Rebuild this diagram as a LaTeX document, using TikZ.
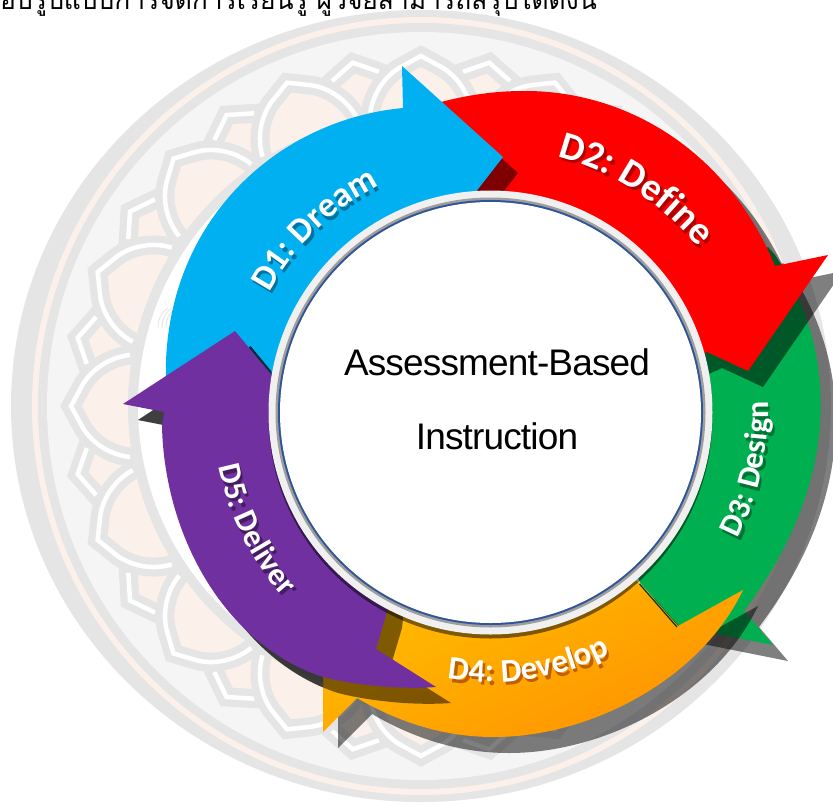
\documentclass[tikz,border=0pt]{standalone}
\usepackage{fontspec}
\setmainfont{Liberation Sans}
\newfontfamily\titlefam[LetterSpace=-2.3]{Liberation Sans}
\newfontfamily\thaifont[Script=Thai]{Loma}
\newfontfamily\lblfam{Carlito}
\usetikzlibrary{decorations.text}
\definecolor{wgrey}{HTML}{E5E5E5}
\definecolor{wband}{HTML}{F5F5F5}
\definecolor{wpeach}{HTML}{FCF0EA}
\definecolor{cblue}{HTML}{00B0F0}
\definecolor{cred}{HTML}{FF0000}
\definecolor{cgreen}{HTML}{00B050}
\definecolor{cpurple}{HTML}{7030A0}
\definecolor{ringblue}{HTML}{2F5597}
\definecolor{ortop}{HTML}{FFC800}
\definecolor{orbot}{HTML}{FF9400}
\tikzset{
  castshadow/.style={fill=black,fill opacity=.5,shift={(15,16)}},
  maintext/.style={font=\titlefam\fontsize{37}{37}\selectfont,text=black,inner sep=0pt},
}
% arrow outlines, in reference pixels
\def\pathGreen{(768,247) -- (775,255) .. controls (832,340) and (850,470) .. (744,611) -- (773,645) -- (678,626) -- (640,583) -- (600,450) -- (700,300) -- cycle}
\def\pathOrange{(743,590) .. controls (700,680) and (590,737) .. (494,737) .. controls (440,737) and (395,720) .. (357,698) -- (323,732) -- (323,650) -- (380,590) -- (491,500) -- (640,583) -- (678,626) -- cycle}
\def\pathRed{(441,102) .. controls (468,95) and (495,91) .. (523,91) .. controls (620,90) and (725,145) .. (775,266) -- (828,255) -- (748,371) -- (707,352) -- (600,400) -- (491,250) -- (475,193) -- cycle}
\def\pathBlue{(166,385) .. controls (160,225) and (275,120) .. (403,108) -- (402,66) -- (503,157) -- (475,193) -- (491,300) -- (300,400) -- cycle}
\def\pathPurple{(436,687) .. controls (395,690) and (350,684) .. (323,677) .. controls (225,645) and (165,537) .. (162,427) -- (164,412) -- (123,404) -- (235,331) -- (270,373) -- (400,500) -- (387,612) -- (376,649) -- cycle}
% curved white label: start angle, end angle, baseline radius, text, halo colour, font commands
\newcommand{\ringlabel}[6]{%
  \pgfmathsetmacro{\lk}{4/3*tan((#2-(#1))/4)*#3}%
  \pgfmathsetmacro{\lax}{491+#3*cos(#1)}\pgfmathsetmacro{\lay}{412-#3*sin(#1)}%
  \pgfmathsetmacro{\lbx}{491+#3*cos(#2)}\pgfmathsetmacro{\lby}{412-#3*sin(#2)}%
  \pgfmathsetmacro{\lcx}{\lax-\lk*sin(#1)}\pgfmathsetmacro{\lcy}{\lay-\lk*cos(#1)}%
  \pgfmathsetmacro{\ldx}{\lbx+\lk*sin(#2)}\pgfmathsetmacro{\ldy}{\lby+\lk*cos(#2)}%
  \path[shift={(2.5,3.5)},decorate,decoration={text along path,text align=center,
      text={|\lblfam#6\color{#5}|#4}}]
      (\lax,\lay) .. controls (\lcx,\lcy) and (\ldx,\ldy) .. (\lbx,\lby);
  \path[decorate,decoration={text along path,text align=center,
      text={|\lblfam#6\color{white}|#4}}]
      (\lax,\lay) .. controls (\lcx,\lcy) and (\ldx,\ldy) .. (\lbx,\lby);
}
\begin{document}
\begin{tikzpicture}[x=1pt,y=-1pt]
\clip (0,0) rectangle (833,804);
\fill[white] (0,0) rectangle (833,804);
% ---- watermark emblem
\fill[wgrey] (421,406) ellipse[x radius=410,y radius=396];
\fill[wpeach] (421,406) circle[radius=389];
\fill[wgrey] (421,406) circle[radius=383];
\fill[wband] (421,406) circle[radius=374];
\foreach \i in {0,...,15}{
  \begin{scope}[shift={(421,406)},rotate={\i*22.5+11.25}]
    \fill[wpeach] (350,0) -- (336,24) -- (285,24) -- (285,-24) -- (336,-24) -- cycle;
    \draw[wgrey,line width=19pt,line join=miter,miter limit=5] (330,34) -- (350,0) -- (330,-34);
    \draw[white,line width=4.5pt,line join=miter,miter limit=5] (336,24) -- (350,0) -- (336,-24);
  \end{scope}
}
\foreach \i in {0,...,15}{
  \begin{scope}[shift={(421,406)},rotate={\i*22.5}]
    \fill[wpeach] (350,0) -- (338,22) .. controls (328,38) and (310,49) .. (291,51) -- (285,51) -- (285,-51) -- (291,-51) .. controls (310,-49) and (328,-38) .. (338,-22) -- cycle;
    \draw[wgrey,line width=19pt,line join=miter,miter limit=5] (280,52) -- (291,51) .. controls (310,49) and (328,38) .. (338,22) -- (350,0) -- (338,-22) .. controls (328,-38) and (310,-49) .. (291,-51) -- (280,-52);
    \draw[white,line width=4.5pt,line join=miter,miter limit=5] (291,51) .. controls (310,49) and (328,38) .. (338,22) -- (350,0) -- (338,-22) .. controls (328,-38) and (310,-49) .. (291,-51);
  \end{scope}
}
\fill[wgrey] (421,406) circle[radius=293];
\fill[white] (421,406) circle[radius=283];
\foreach \d in {0,4,8}{
  \draw[wgrey,line width=.8pt] ({158+\d},328) .. controls ({158+\d},318) and ({162+\d},312) .. ({168+\d},308);
}
% ---- cycle arrows (back to front)
\fill[castshadow] \pathGreen;
\fill[cgreen] \pathGreen;
\fill[castshadow] \pathOrange;
\shade[top color=ortop,bottom color=orbot,shading angle=25] \pathOrange;
\draw[black!70!cgreen,line width=1.2pt] (639.5,584) -- (677,627);
\fill[castshadow] \pathRed;
\fill[cred] \pathRed;
\fill[castshadow] \pathBlue;
\fill[cblue] \pathBlue;
\begin{scope}
  \clip (0,300) rectangle (323,804);
  \fill[castshadow] \pathPurple;
\end{scope}
\fill[castshadow] \pathPurple;
\draw[black!75!cblue,line width=1.5pt] (250,346.5) -- (271,372);
\fill[cpurple] \pathPurple;
% ---- centre
\fill[black,fill opacity=.5] (490.5,416.5) circle[radius=222];
\fill[black!6] (490.5,412.5) circle[radius=222];
\fill[black!38] (490.5,412.5) circle[radius=215];
\fill[ringblue] (490.5,412.5) circle[radius=212.5];
\fill[white] (490.5,412.5) circle[radius=210.5];
\node[maintext] (title1) at (497,362) {Assessment-Based};
\node[maintext] (title2) at (497,436) {Instruction};
% ---- labels
\ringlabel{155}{113}{252}{D1: Dream}{black!35!cblue}{\bfseries\fontsize{35}{35}\selectfont}
\ringlabel{80}{34}{264}{D2: Define}{black!30!cred}{\bfseries\fontsize{39}{39}\selectfont}
\ringlabel{-28}{3}{277}{D3: Design}{black!35!cgreen}{\bfseries\fontsize{32}{32}\selectfont}
\ringlabel{259}{298}{270}{D4: Develop}{black!25!orange}{\bfseries\fontsize{33}{33}\selectfont}
\ringlabel{189}{224}{278}{D5: Deliver}{black!40!cpurple}{\bfseries\fontsize{32}{32}\selectfont}
% ---- cropped caption line
\node[anchor=base east,inner sep=0pt,text=black,font=\thaifont\fontsize{26.4}{26.4}\selectfont] (caption) at (597,9) {อบรูปแบบการจัดการเรียนรู้ ผู้วิจัยสามารถสรุปได้ดังนี้};
\end{tikzpicture}
\end{document}
